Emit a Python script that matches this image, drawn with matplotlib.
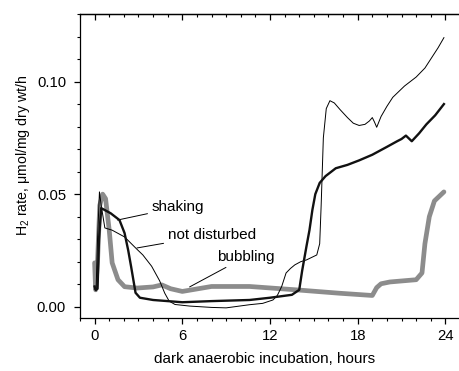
import numpy as np
import matplotlib
matplotlib.use("Agg")
from matplotlib import pyplot as plt
from matplotlib.ticker import MultipleLocator

plt.rcParams['font.family'] = ['Liberation Sans', 'DejaVu Sans']
plt.rcParams['mathtext.fontset'] = 'custom'
plt.rcParams['mathtext.rm'] = 'Liberation Sans'

# not disturbed (thin black)
t_nd = [0.0, 0.1, 0.2, 0.33, 0.45, 0.7, 1.2, 2.05, 2.9, 3.3, 3.9, 4.45, 4.8,
        5.1, 5.5, 6.5, 8.0, 9.0, 10.6, 11.5, 12.2, 12.5, 12.8, 13.1, 13.4,
        13.7, 14.1, 14.5, 15.2, 15.4, 15.5, 15.65, 15.85, 16.1, 16.4, 16.8,
        17.3, 17.7, 18.1, 18.5, 18.8, 19.0, 19.15, 19.3, 19.6, 20.0, 20.4,
        21.2, 22.0, 22.6, 23.1, 23.5, 23.9]
v_nd = [0.008, 0.007, 0.030, 0.051, 0.045, 0.035, 0.034, 0.031, 0.0255,
        0.023, 0.018, 0.0115, 0.006, 0.0025, 0.001, 0.0003, -0.0003, -0.0005,
        0.0009, 0.0015, 0.003, 0.005, 0.009, 0.015, 0.017, 0.0186, 0.020,
        0.0208, 0.023, 0.028, 0.045, 0.075, 0.088, 0.0915, 0.0905, 0.0875,
        0.084, 0.0815, 0.0805, 0.081, 0.0825, 0.084, 0.082, 0.0797, 0.0845,
        0.089, 0.093, 0.098, 0.102, 0.106, 0.111, 0.115, 0.1195]

# shaking (thick black)
t_sh = [0.0, 0.07, 0.2, 0.3, 0.45, 1.1, 1.7, 2.05, 2.3, 2.5, 2.8, 3.1, 4.0,
        6.0, 8.0, 10.6, 12.0, 13.5, 14.0, 14.2, 14.5, 14.7, 14.9, 15.1, 15.4,
        15.8, 16.5, 17.3, 18.1, 19.0, 20.0, 20.7, 21.0, 21.3, 21.7, 22.2,
        22.7, 23.3, 23.9]
v_sh = [0.009, 0.0075, 0.008, 0.030, 0.0438, 0.0415, 0.0385, 0.0327, 0.025,
        0.0177, 0.0062, 0.004, 0.003, 0.002, 0.0025, 0.003, 0.004, 0.0053,
        0.0075, 0.016, 0.027, 0.034, 0.043, 0.050, 0.055, 0.058, 0.0615,
        0.063, 0.065, 0.0675, 0.071, 0.0735, 0.0745, 0.076, 0.0735, 0.077,
        0.081, 0.085, 0.090]

# bubbling (thick grey)
t_bu = [0.0, 0.07, 0.2, 0.35, 0.55, 0.75, 1.0, 1.2, 1.6, 2.05, 2.9, 4.0, 4.6,
        5.2, 6.0, 8.0, 10.6, 13.8, 16.75, 19.0, 19.3, 19.6, 20.2, 22.0, 22.4,
        22.6, 22.9, 23.25, 23.9]
v_bu = [0.0195, 0.0075, 0.020, 0.045, 0.050, 0.048, 0.034, 0.0195, 0.012,
        0.0089, 0.0083, 0.0088, 0.0097, 0.008, 0.0068, 0.009, 0.009, 0.0075,
        0.006, 0.005, 0.0085, 0.0102, 0.011, 0.012, 0.015, 0.028, 0.040,
        0.047, 0.051]

fig = plt.figure(figsize=(4.59, 3.71), dpi=100)
ax = fig.add_axes([80 / 459, 53 / 371, 380 / 459, 304 / 371])

ax.plot(t_bu, v_bu, color='#8c8c8c', lw=3.4, solid_capstyle='round', zorder=2)
ax.plot(t_nd, v_nd, color='black', lw=0.7, zorder=3)
ax.plot(t_sh, v_sh, color='#111111', lw=1.7, zorder=4)

ax.set_xlim(-1, 25)
ax.set_ylim(-0.005, 0.13)

ax.xaxis.set_major_locator(MultipleLocator(6))
ax.xaxis.set_minor_locator(MultipleLocator(1))
ax.yaxis.set_major_locator(MultipleLocator(0.05))
ax.yaxis.set_minor_locator(MultipleLocator(0.01))
ax.yaxis.set_major_formatter(plt.FormatStrFormatter('%.2f'))

ax.spines['right'].set_visible(False)
for s in ['left', 'bottom', 'top']:
    ax.spines[s].set_linewidth(0.9)

ax.tick_params(axis='x', which='both', direction='out', top=False, labelsize=10.7, pad=4)
ax.tick_params(axis='y', which='both', direction='out', right=False, labelsize=10.7, pad=6)
ax.tick_params(which='major', length=4, width=0.9)
ax.tick_params(which='minor', length=2.5, width=0.8)

# inward ticks on the top spine
top = ax.secondary_xaxis('top')
top.xaxis.set_major_locator(MultipleLocator(6))
top.xaxis.set_minor_locator(MultipleLocator(1))
top.tick_params(which='both', direction='in', labeltop=False)
top.tick_params(which='major', length=4, width=0.9)
top.tick_params(which='minor', length=2.5, width=0.8)
top.spines['top'].set_linewidth(0.9)

ax.set_xlabel('dark anaerobic incubation, hours', fontsize=11)
ax.set_ylabel('H$_2$ rate, \u03bcmol/mg dry wt/h', fontsize=10.2)
ax.xaxis.set_label_coords(0.487, -0.112)
ax.yaxis.set_label_coords(-0.125, 0.536)

lead = dict(arrowstyle='-', lw=0.7, color='black', shrinkA=1, shrinkB=0)
ax.annotate('shaking', xy=(1.57, 0.0385), xytext=(3.9, 0.0442),
            fontsize=11, va='center', ha='left', arrowprops=lead)
ax.annotate('not disturbed', xy=(2.9, 0.0261), xytext=(5.0, 0.0319),
            fontsize=11, va='center', ha='left', arrowprops=lead)
ax.annotate('bubbling', xy=(6.5, 0.0088), xytext=(8.35, 0.0221),
            fontsize=11, va='center', ha='left', arrowprops=lead)

fig.savefig('out.png', dpi=100)
